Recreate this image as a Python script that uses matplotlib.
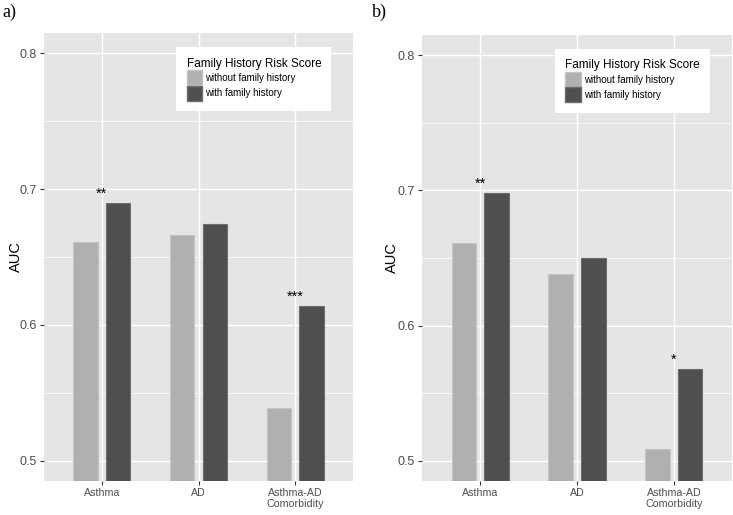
import matplotlib
matplotlib.use("Agg")
import matplotlib.pyplot as plt
import numpy as np
from matplotlib.patches import Patch

# ---------------------------------------------------------------------------
# Données
# ---------------------------------------------------------------------------
CATEGORIES = ["Asthma", "AD", "Asthma-AD\nComorbidity"]
SERIES = ["without family history", "with family history"]

A_SANS = [0.661, 0.666, 0.539]
A_AVEC = [0.690, 0.674, 0.614]
A_ETOILES = ["**", "", "***"]

B_SANS = [0.661, 0.638, 0.509]
B_AVEC = [0.698, 0.650, 0.568]
B_ETOILES = ["**", "", "*"]

Y_TICKS = [0.5, 0.6, 0.7, 0.8]

# Style
FOND = "#E5E5E5"
GRIS_CLAIR = "#B0B0B0"
GRIS_FONCE = "#4F4F4F"
POLICE = "Liberation Sans"

plt.rcParams["font.family"] = [POLICE, "DejaVu Sans"]


def panneau(ax, sans, avec, etoiles, x_label_auc):
    x = np.arange(len(CATEGORIES))
    largeur = 0.25
    ecart = 0.17
    ax.bar(x - ecart, sans, width=largeur, color=GRIS_CLAIR,
           edgecolor="#C4C4C4", linewidth=0.8, zorder=3)
    ax.bar(x + ecart, avec, width=largeur, color=GRIS_FONCE,
           edgecolor="#6E6E6E", linewidth=0.8, zorder=3)

    # étoiles de significativité, au-dessus de la barre "with"
    for xi, v, s in zip(x, avec, etoiles):
        if s:
            ax.annotate(s, (xi, v + 0.01), xytext=(0, -6),
                        textcoords="offset points", ha="center",
                        va="baseline", fontsize=10.5, color="black",
                        zorder=4)

    ax.set_facecolor(FOND)
    ax.set_xlim(-0.6, len(CATEGORIES) - 0.4)
    ax.set_ylim(0.485, 0.815)
    ax.set_xticks(x)
    ax.set_xticklabels(CATEGORIES, fontsize=7.7, color="#4D4D4D",
                       linespacing=1.1)
    ax.set_yticks(Y_TICKS)
    ax.set_yticklabels([f"{t:.1f}" for t in Y_TICKS], fontsize=9,
                       color="#4D4D4D")
    ax.set_yticks([0.55, 0.65, 0.75], minor=True)
    ax.tick_params(axis="both", which="major", length=3, width=0.8,
                   color="#333333", pad=2)
    ax.tick_params(axis="y", which="minor", length=0)
    ax.grid(True, which="major", color="white", linewidth=1.0, zorder=0)
    ax.grid(True, which="minor", axis="y", color="white", linewidth=0.5,
            zorder=0)
    ax.set_axisbelow(True)
    for sp in ax.spines.values():
        sp.set_visible(False)
    ax.set_ylabel("AUC", fontsize=10.5, va="center")
    ax.yaxis.set_label_coords(x_label_auc, 0.5)

    poignees = [Patch(facecolor=GRIS_CLAIR, edgecolor="#C4C4C4"),
                Patch(facecolor=GRIS_FONCE, edgecolor="#6E6E6E")]
    leg = ax.legend(poignees, SERIES, title="Family History Risk Score",
                    loc="upper right", bbox_to_anchor=(0.93, 0.968),
                    fontsize=7, title_fontsize=8.5, frameon=True,
                    fancybox=False, framealpha=1, edgecolor="white",
                    handlelength=1.6, handleheight=2.0,
                    labelspacing=0.05, handletextpad=0.35,
                    borderpad=1.05, borderaxespad=0, alignment="left")
    leg.get_frame().set_linewidth(0)


fig = plt.figure(figsize=(7.33, 5.15), dpi=100)
ax_a = fig.add_axes([44 / 733, 34 / 515, 309 / 733, 448 / 515])
ax_b = fig.add_axes([422 / 733, 34 / 515, 310 / 733, 446 / 515])

panneau(ax_a, A_SANS, A_AVEC, A_ETOILES, -0.09)
panneau(ax_b, B_SANS, B_AVEC, B_ETOILES, -0.098)

fig.text(2 / 733, 1 - 17 / 515, "a)", fontsize=13,
         family="Liberation Serif", va="baseline")
fig.text(372 / 733, 1 - 17 / 515, "b)", fontsize=13,
         family="Liberation Serif", va="baseline")

fig.savefig("out.png", dpi=100)
